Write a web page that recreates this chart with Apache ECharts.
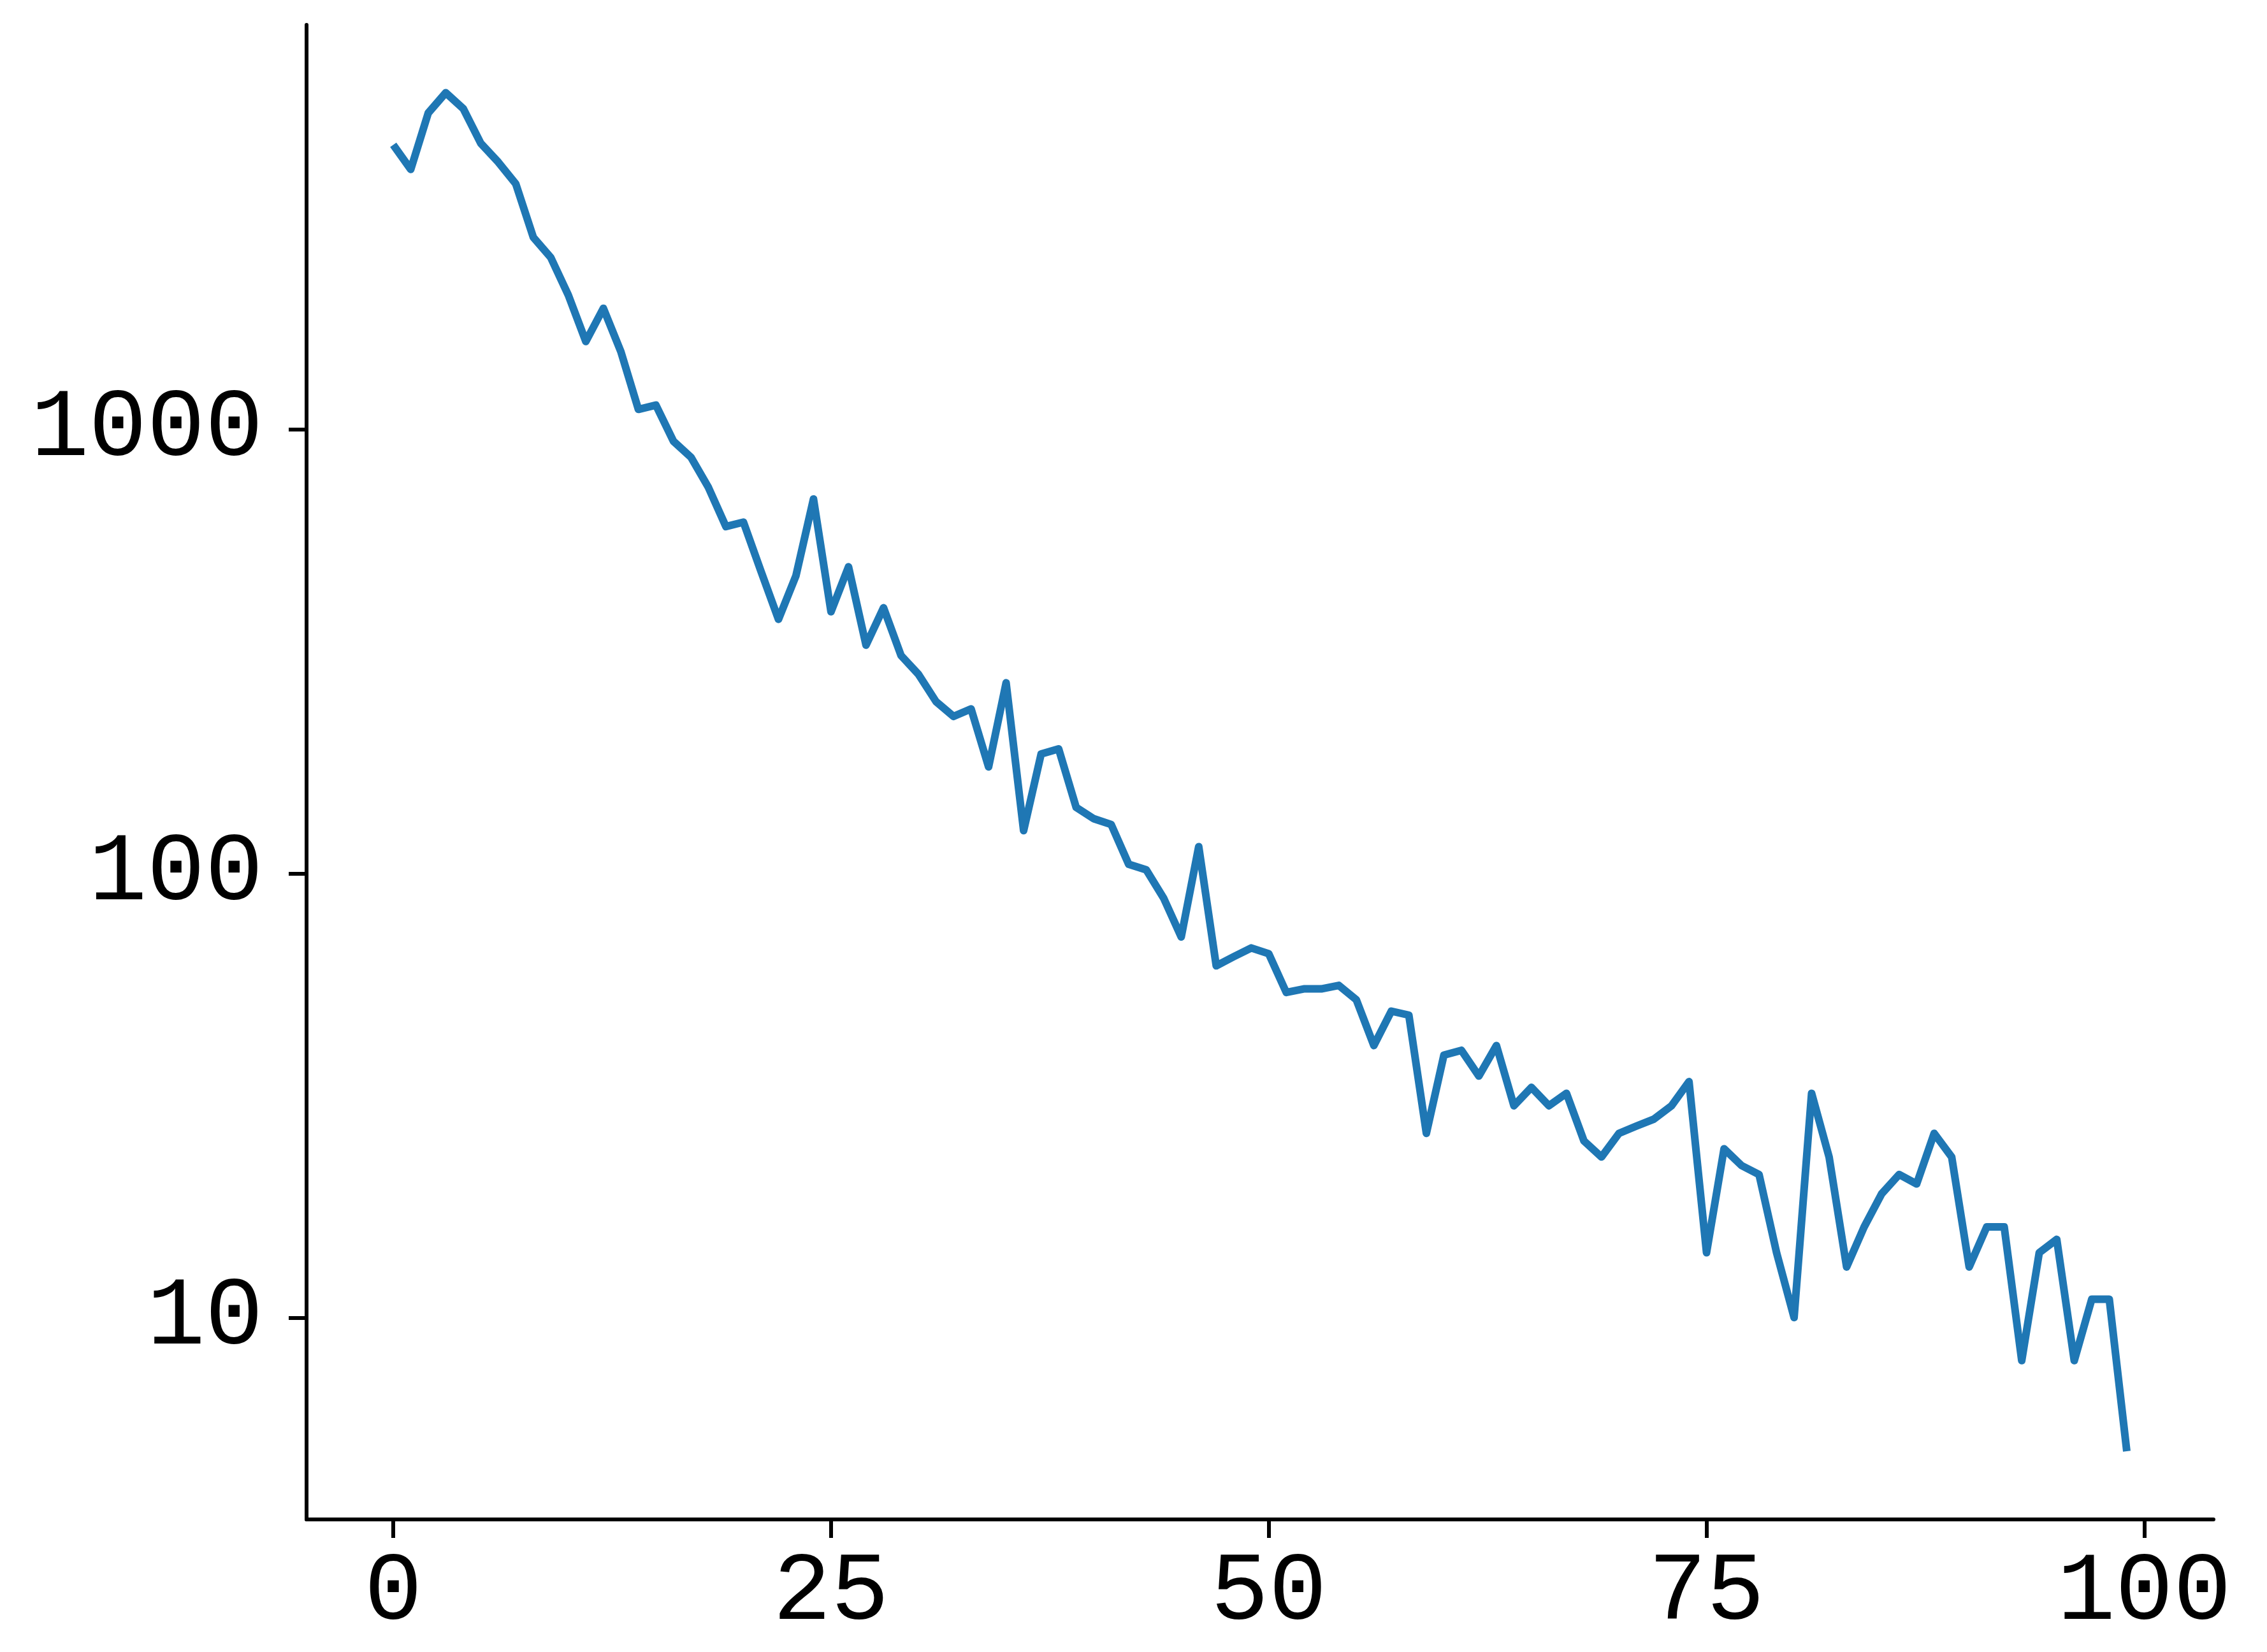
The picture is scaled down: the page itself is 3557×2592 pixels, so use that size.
<!DOCTYPE html>
<html>
<head>
<meta charset="utf-8">
<script src="https://cdn.jsdelivr.net/npm/echarts@6/dist/echarts.min.js"></script>
<style>
  html, body { margin: 0; padding: 0; background: #fff; }
  #chart { width: 3557px; height: 2592px; }
</style>
</head>
<body>
<div id="chart"></div>
<script>
  // counts per step
  var counts = [
    4382, 3857, 5169, 5741, 5286, 4416, 4005, 3578, 2712, 2441,
    2009, 1580, 1877, 1499, 1111, 1136, 942, 867, 741, 605,
    619, 480, 374, 469, 698, 389, 491, 327, 397, 310,
    281, 244, 226, 235, 174, 269, 125, 186, 191, 141,
    133, 129, 105, 102, 88, 72, 115, 62, 65, 68,
    66, 54, 55, 55, 56, 52, 41, 49, 48, 26,
    39, 40, 35, 41, 30, 33, 30, 32, 25, 23,
    26, 27, 28, 30, 34, 14, 24, 22, 21, 14,
    10, 32, 23, 13, 16, 19, 21, 20, 26, 23,
    13, 16, 16, 8, 14, 15, 8, 11, 11, 5
  ];
  var xTicks = [0, 25, 50, 75, 100];
  var yTicks = [10, 100, 1000];

  var chart = echarts.init(document.getElementById('chart'));

  var data = counts.map(function (v, i) {
    return [i, v];
  });

  var labelFont = {
    fontFamily: 'Liberation Mono',
    fontSize: 152,
    color: '#000',
    formatter: function (v) { return String(Math.round(v)); }
  };

  var option = {
    backgroundColor: '#fff',
    animation: false,
    grid: {
      left: 481,
      right: 84,
      top: 39,
      bottom: 208
    },
    xAxis: {
      type: 'value',
      min: -4.95,
      max: 103.95,
      axisLine: { onZero: false, lineStyle: { color: '#000', width: 6 } },
      axisTick: {
        customValues: xTicks,
        length: 29,
        lineStyle: { color: '#000', width: 6 }
      },
      axisLabel: Object.assign({
        customValues: xTicks,
        margin: 40
      }, labelFont),
      splitLine: { show: false }
    },
    yAxis: {
      type: 'log',
      logBase: 10,
      min: 3.51,
      max: 8163,
      axisLine: { show: true, onZero: false, lineStyle: { color: '#000', width: 6 } },
      axisTick: {
        show: true,
        customValues: yTicks,
        length: 28,
        lineStyle: { color: '#000', width: 6 }
      },
      axisLabel: Object.assign({
        customValues: yTicks,
        margin: 68,
        padding: [18, 0, 0, 0]
      }, labelFont),
      splitLine: { show: false }
    },
    series: [{
      type: 'line',
      data: data,
      symbol: 'none',
      lineStyle: { color: '#1f77b4', width: 12, join: 'round' }
    }]
  };

  chart.setOption(option);
</script>
</body>
</html>
